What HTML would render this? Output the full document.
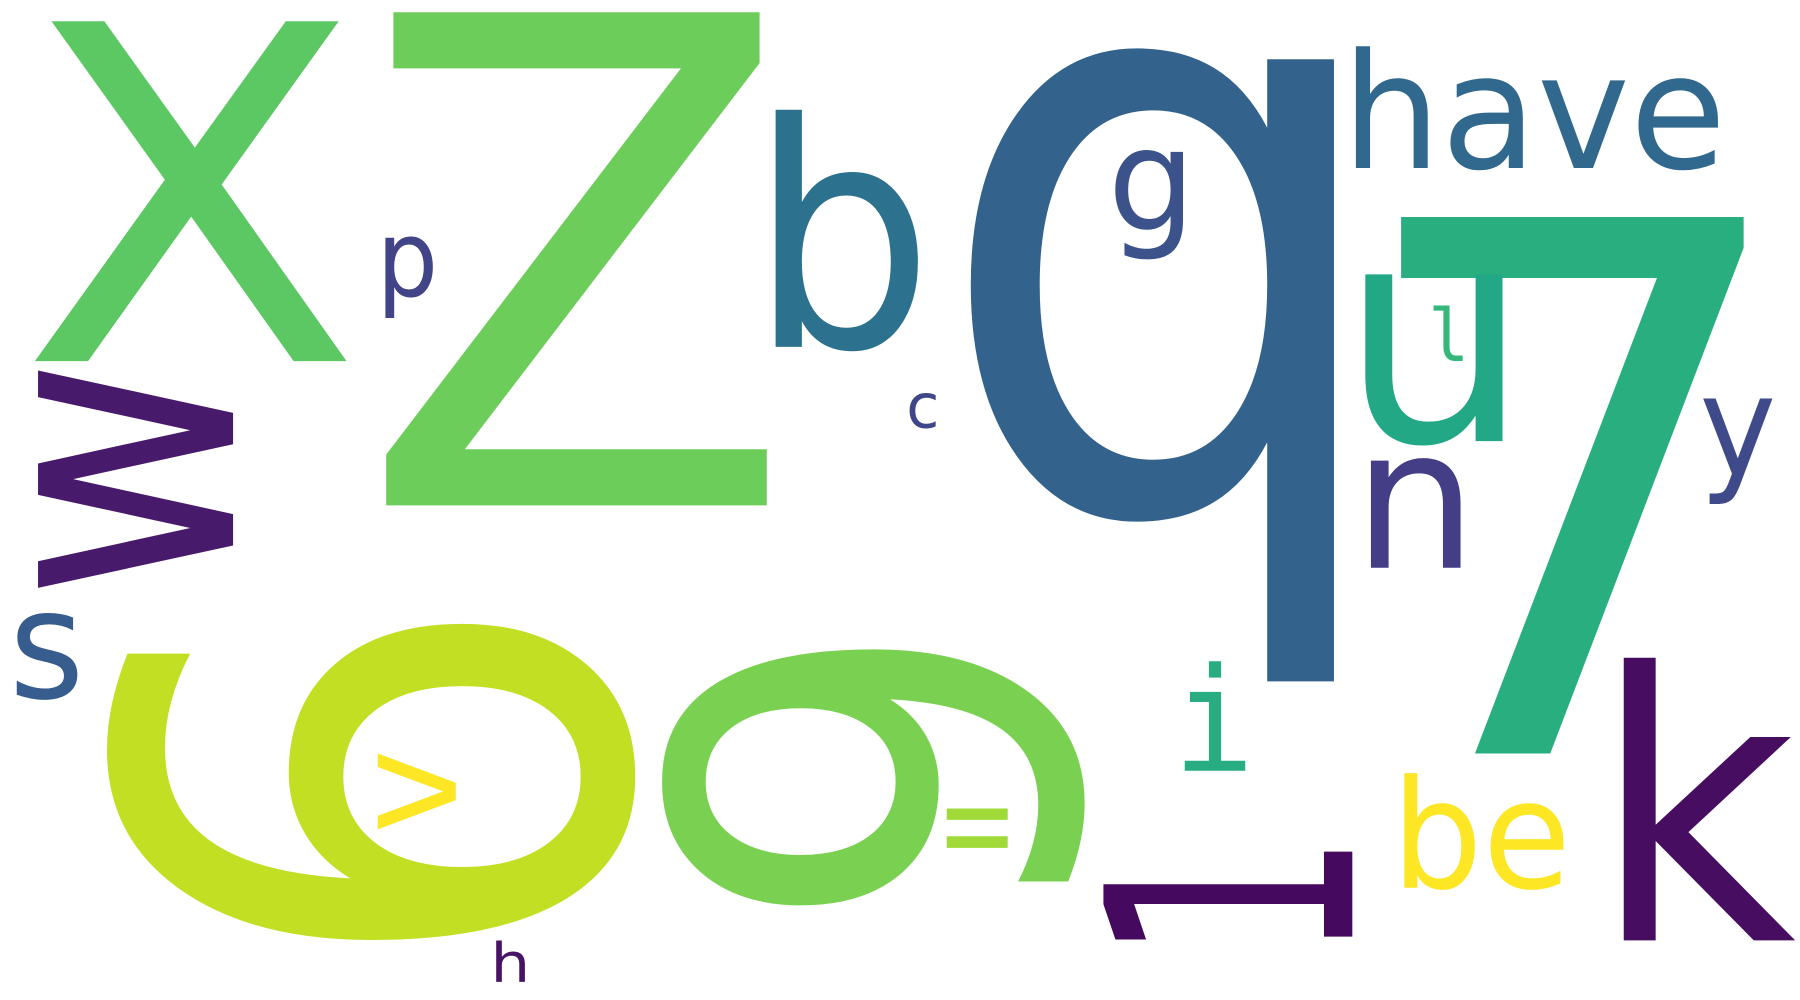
<!DOCTYPE html>
<html><head><meta charset="utf-8"><style>
html,body{margin:0;padding:0;background:#fff;}
svg{display:block;}
</style></head><body>
<svg id="cloud" width="1800" height="1000" viewBox="0 0 1560 866.67" xmlns="http://www.w3.org/2000/svg">
<rect width="1560" height="866.67" fill="#ffffff"/>
<g id="words"></g>
</svg>
<script>
// word cloud data
const words   = ["X","Z","q","7","b","g","have","u","l","n","y","p","c","w","s","6","v","9","=","i","1","be","k","h"];
const weights = [30,34,40,34,16,8,10,12,3,8,7,5,2,14,5,26,4,20,3,6,14,9,18,2];
const colors  = ["#5bc863","#6ccd5a","#33638d","#29af7f","#2c728e","#3b528b","#31688e","#22a884","#35b779","#433e85","#3e4a89","#414487","#3f4788","#481a6c","#365d8d","#c2df23","#fde725","#7ad151","#a0da39","#27ad81","#450a5f","#fde725","#470d60","#471365"];
const rotations = [0,0,0,0,0,0,0,0,0,0,0,0,0,-90,0,-90,-90,-90,0,0,-90,0,0,0];
const mono = [0,0,0,0,0,0,0,0,1,0,0,0,0,0,0,0,0,0,0,1,0,0,0,0];
// layout boxes [x0,y0,x1,y1]
const boxes = [[26,18,303,313],[332,10,670,438],[838,42,1160,592],[1213,181,1517,653],[672,95,798,306],[966,130,1026,225],[1175,40,1490,147],[1182,237,1304,385],[1242,265,1268,313],[1188,397,1266,492],[1475,345,1537,437],[334,205,376,276],[788,340,811,371],[32,320,202,510],[14,530,68,606],[88,537,548,820],[327,652,395,720],[570,561,938,786],[820,700,874,735],[1026,573,1080,668],[956,737,1172,816],[1217,670,1356,772],[1407,570,1557,815],[430,815,455,851]];

const g = document.getElementById('words');
const cv = document.createElement('canvas').getContext('2d');
words.forEach((w,i)=>{
  const fam = mono[i] ? '"DejaVu Sans Mono"' : '"DejaVu Sans"';
  cv.font = '100px ' + fam;
  const m = cv.measureText(w);
  const L = m.actualBoundingBoxLeft, R = m.actualBoundingBoxRight;
  const A = m.actualBoundingBoxAscent, D = m.actualBoundingBoxDescent;
  const iw = L+R, ih = A+D;
  const cx0 = (R-L)/2, cy0 = (D-A)/2;
  const b = boxes[i];
  const bw = b[2]-b[0], bh = b[3]-b[1];
  const cx = (b[0]+b[2])/2, cy = (b[1]+b[3])/2;
  let sx, sy;
  if (rotations[i] !== 0) { sx = bh/iw; sy = bw/ih; } else { sx = bw/iw; sy = bh/ih; }
  const t = document.createElementNS('http://www.w3.org/2000/svg','text');
  
  
  t.setAttribute('font-size','100');
  t.setAttribute('font-family', mono[i] ? 'DejaVu Sans Mono, monospace' : 'DejaVu Sans, sans-serif');
  t.setAttribute('fill', colors[i]);
  t.setAttribute('data-weight', weights[i]);
  t.setAttribute('transform', `translate(${cx},${cy}) rotate(${rotations[i]}) scale(${sx},${sy}) translate(${-cx0},${-cy0})`);
  t.textContent = w;
  g.appendChild(t);
});
</script>
</body></html>
